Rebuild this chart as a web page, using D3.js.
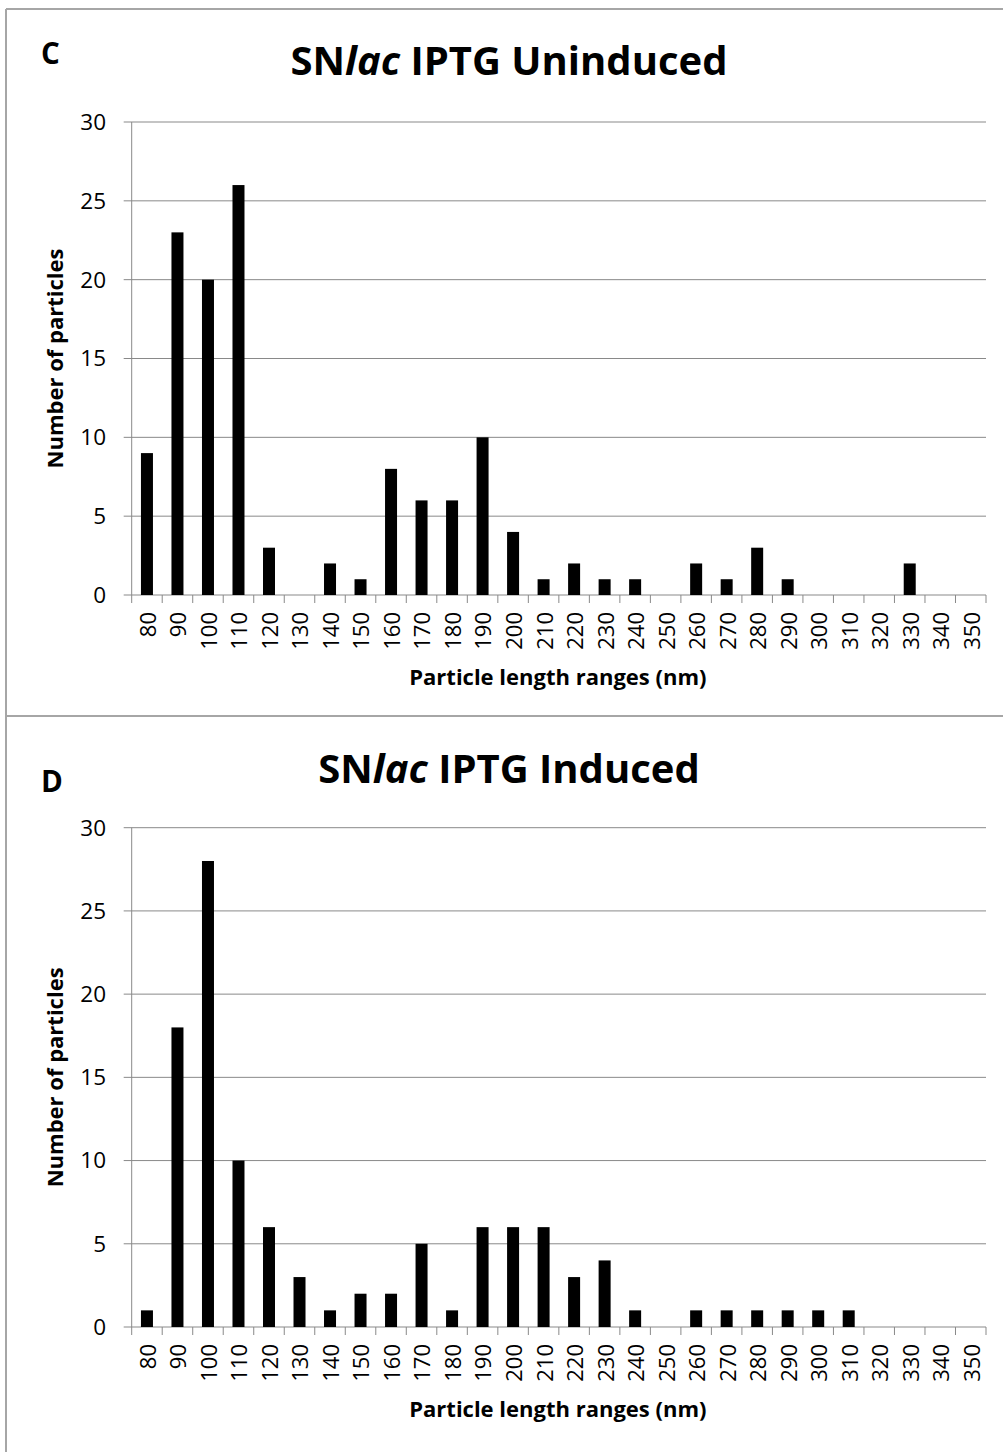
<!DOCTYPE html>
<html>
<head>
<meta charset="utf-8">
<script src="https://cdn.jsdelivr.net/npm/d3@7"></script>
<style>
  body { margin: 0; background: #fff; }
  svg { display: block; font-family: "Open Sans", sans-serif; }
</style>
</head>
<body>
<svg id="chart" width="1003" height="1452"></svg>
<script>
// particle length bins (nm)
const categories = [80, 90, 100, 110, 120, 130, 140, 150, 160, 170, 180, 190, 200, 210,
  220, 230, 240, 250, 260, 270, 280, 290, 300, 310, 320, 330, 340, 350];

const uninduced = [9, 23, 20, 26, 3, 0, 2, 1, 8, 6, 6, 10, 4, 1,
  2, 1, 1, 0, 2, 1, 3, 1, 0, 0, 0, 2, 0, 0];

const induced = [1, 18, 28, 10, 6, 3, 1, 2, 2, 5, 1, 6, 6, 6,
  3, 4, 1, 0, 1, 1, 1, 1, 1, 1, 0, 0, 0, 0];

const yTicks = [0, 5, 10, 15, 20, 25, 30];

const panels = [
  { letter: "C", name: "Uninduced", values: uninduced, top: 9,   plotTop: 122,   plotBottom: 595,
    titleY: 75, letterY: 64 },
  { letter: "D", name: "Induced",   values: induced,   top: 716, plotTop: 827.7, plotBottom: 1327,
    titleY: 783, letterY: 792 }
];

const svg = d3.select("#chart");
const left = 131.7, right = 986;
const gridColor = "#898989";

// frame
svg.append("line").attr("x1", 6).attr("x2", 6).attr("y1", 9).attr("y2", 1452)
  .attr("stroke", "#a6a6a6").attr("stroke-width", 2);
panels.forEach(p => {
  svg.append("line").attr("x1", 6).attr("x2", 1003).attr("y1", p.top).attr("y2", p.top)
    .attr("stroke", "#a6a6a6").attr("stroke-width", 2);
});

panels.forEach(p => {
  const g = svg.append("g");

  const x = d3.scaleBand().domain(categories).range([left, right]).paddingInner(0).paddingOuter(0);
  const y = d3.scaleLinear().domain([0, 30]).range([p.plotBottom, p.plotTop]);

  // gridlines
  g.append("g").selectAll("line").data(yTicks).join("line")
    .attr("x1", left - 8).attr("x2", right)
    .attr("y1", d => y(d)).attr("y2", d => y(d))
    .attr("stroke", gridColor).attr("stroke-width", 1);

  // y axis line
  g.append("line").attr("x1", left).attr("x2", left)
    .attr("y1", y(30)).attr("y2", y(0))
    .attr("stroke", gridColor).attr("stroke-width", 1);

  // x tick marks at band edges
  const edges = categories.map(c => x(c)).concat([right]);
  g.append("g").selectAll("line").data(edges).join("line")
    .attr("x1", d => d).attr("x2", d => d)
    .attr("y1", y(0)).attr("y2", y(0) + 8)
    .attr("stroke", gridColor).attr("stroke-width", 1);

  // bars
  const bw = 12;
  g.append("g").selectAll("rect").data(categories.map((c, i) => ({ c, v: p.values[i] })).filter(d => d.v > 0))
    .join("rect")
    .attr("x", d => x(d.c) + x.bandwidth() / 2 - bw / 2)
    .attr("width", bw)
    .attr("y", d => y(d.v))
    .attr("height", d => y(0) - y(d.v))
    .attr("fill", "#000");

  // y tick labels
  g.append("g").selectAll("text").data(yTicks).join("text")
    .attr("x", 106).attr("y", d => y(d))
    .attr("dy", "0.35em")
    .attr("text-anchor", "end")
    .attr("font-size", 22.5)
    .text(d => d);

  // x tick labels, rotated
  g.append("g").selectAll("text").data(categories).join("text")
    .attr("transform", d => `translate(${x(d) + x.bandwidth() / 2 + 1},${y(0) + 17}) rotate(-90)`)
    .attr("dy", "0.36em")
    .attr("text-anchor", "end")
    .attr("font-size", 22)
    .text(d => d);

  // axis titles
  g.append("text")
    .attr("x", (left + right) / 2 - 1).attr("y", y(0) + 90)
    .attr("text-anchor", "middle")
    .attr("font-size", 22).attr("font-weight", "bold")
    .text("Particle length ranges (nm)");

  g.append("text")
    .attr("transform", `translate(63,${(p.plotTop + p.plotBottom) / 2}) rotate(-90)`)
    .attr("text-anchor", "middle")
    .attr("font-size", 22).attr("font-weight", "bold")
    .text("Number of particles");

  // chart title, centred on the whole chart area
  const t = g.append("text")
    .attr("x", 509).attr("y", p.titleY)
    .attr("text-anchor", "middle")
    .attr("font-size", 40).attr("font-weight", "bold");
  t.append("tspan").text("SN");
  t.append("tspan").attr("font-style", "italic").text("lac");
  t.append("tspan").text(" IPTG " + p.name);

  // panel letter
  g.append("text")
    .attr("x", 41).attr("y", p.letterY)
    .attr("font-size", 29.5).attr("font-weight", "bold")
    .text(p.letter);
});
</script>
</body>
</html>
